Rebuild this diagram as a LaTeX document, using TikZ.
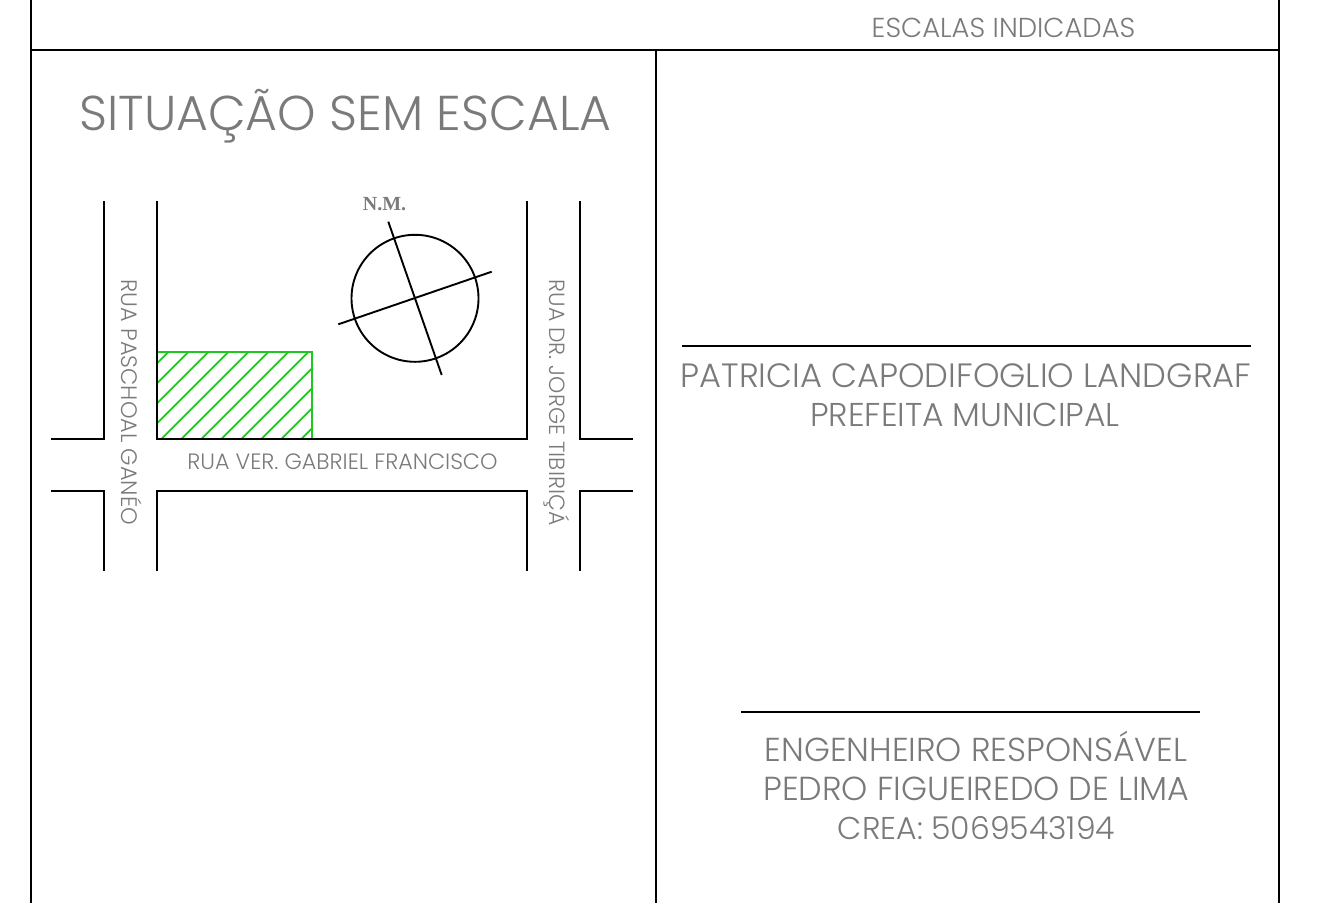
\documentclass[tikz,border=0pt]{standalone}
\usepackage{fontspec}
\setmainfont{Poppins Light}
\newfontfamily\nmfont{Liberation Serif}
\definecolor{txtgray}{HTML}{7A7A7A}
\definecolor{hatchgreen}{HTML}{1FC71F}
\tikzset{
  txt/.style={inner sep=0pt,text=txtgray,anchor=base},
  frameline/.style={draw=black,line width=1.8pt},
  road/.style={draw=black,line width=1.9pt},
  hatch/.style={draw=hatchgreen,line width=1.7pt}
}
\newcommand{\fs}[1]{\fontsize{#1}{#1}\selectfont}
\begin{document}
\begin{tikzpicture}[x=1pt,y=-1pt]
\useasboundingbox (0,0) rectangle (1329,903);
% frame
\draw[frameline] (31,0) -- (31,903);
\draw[frameline] (1279,0) -- (1279,903);
\draw[frameline] (31,50) -- (1279,50);
\draw[frameline] (656,50) -- (656,903);
\draw[frameline] (682,346) -- (1251,346);
\draw[frameline] (741,712) -- (1200,712);
% texts
\node[txt] (scales) at (1003.5,37) {\fs{27.4}ESCALAS INDICADAS};
\node[txt] (title) at (345.5,130) {\fs{48.9}SITUAÇÃO SEM ESCALA};
\node[txt] (pref1) at (966,387) {\fs{33.7}PATRICIA CAPODIFOGLIO LANDGRAF};
\node[txt] (pref2) at (965,426) {\fs{33}PREFEITA MUNICIPAL};
\node[txt] (eng1) at (976,761) {\fs{33.2}ENGENHEIRO RESPONSÁVEL};
\node[txt] (eng2) at (976.5,800) {\fs{33.3}PEDRO FIGUEIREDO DE LIMA};
\node[txt] (eng3) at (976.5,839) {\fs{31.5}CREA: 5069543194};
\node[txt] (rua1) at (342.5,469) {\fs{22.2}RUA VER. GABRIEL FRANCISCO};
\node[txt,rotate=-90] (rua2) at (121.5,402.5) {\fs{22.4}RUA PASCHOAL GANÉO};
\node[txt,rotate=-90] (rua3) at (549.5,402.5) {\fs{22}RUA DR. JORGE TIBIRIÇÁ};
\node[txt] (nm) at (384.5,210) {\nmfont\bfseries\fs{20}N.M.};
% hatch
\begin{scope}
\clip (157,352) rectangle (312,439);
\foreach \k in {0,...,11}{
  \pgfmathsetmacro{\c}{520.4+20*\k}
  \draw[hatch] (157,\c-157) -- (\c-352,352);
}
\end{scope}
\draw[hatch] (157,352) -- (312,352) -- (312,439);
% roads
\draw[road] (104,201) -- (104,439) -- (51,439);
\draw[road] (157,201) -- (157,439) -- (527,439) -- (527,201);
\draw[road] (580,201) -- (580,439) -- (633,439);
\draw[road] (51,491) -- (104,491) -- (104,571);
\draw[road] (157,571) -- (157,491) -- (527,491) -- (527,571);
\draw[road] (633,491) -- (580,491) -- (580,571);
% north mark
\draw[road] (415,298.3) circle (63.5);
\draw[road] (388.3,221.7) -- (441.7,375);
\draw[road] (338.3,324.3) -- (491.7,271.7);
\end{tikzpicture}
\end{document}
